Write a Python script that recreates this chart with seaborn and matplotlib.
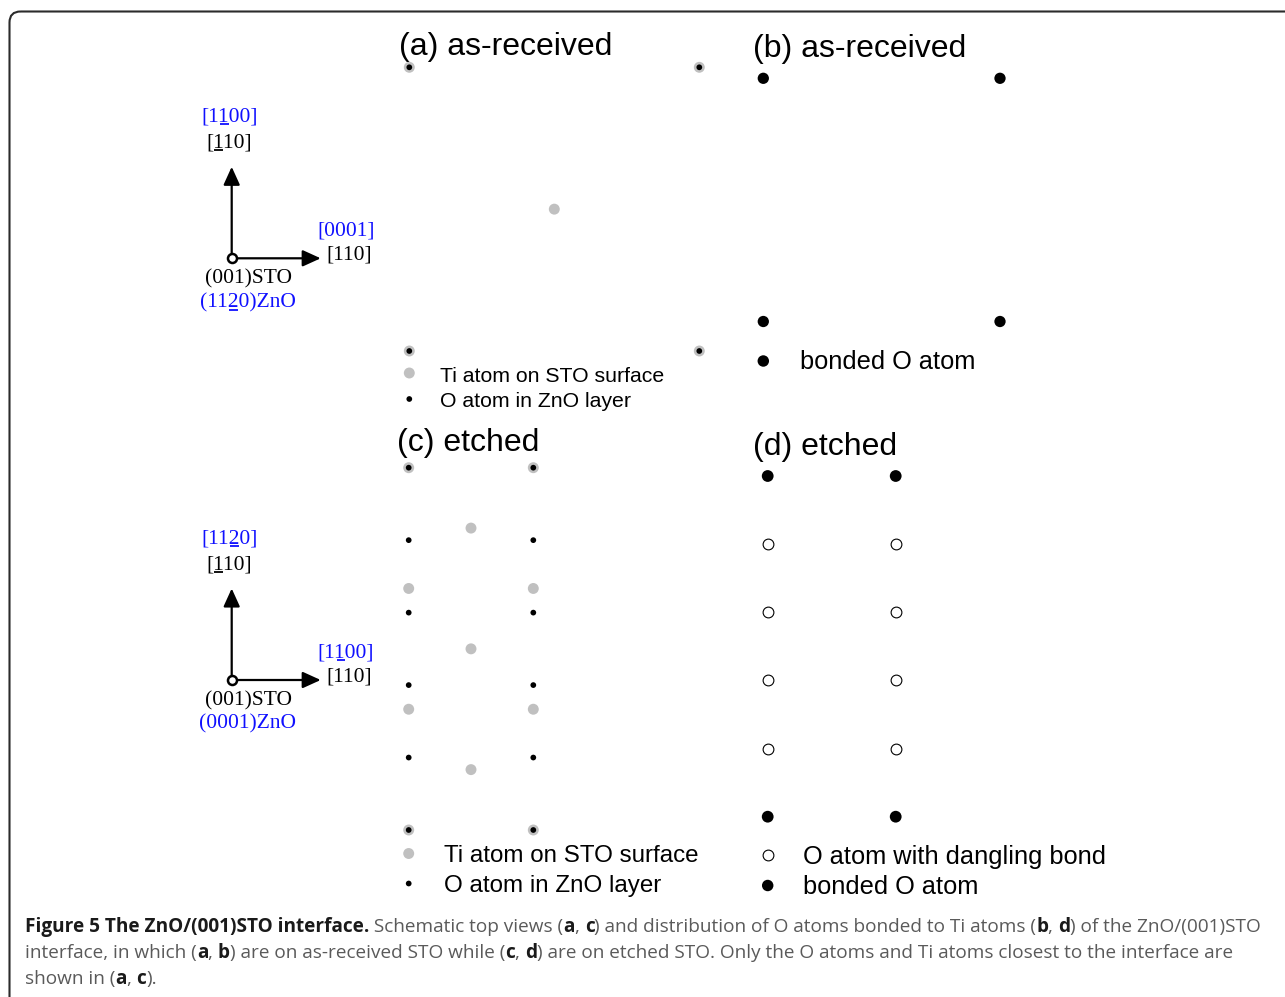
import matplotlib
matplotlib.use("Agg")
import matplotlib.pyplot as plt
from matplotlib.font_manager import FontProperties
from matplotlib.patches import FancyBboxPatch
import seaborn as sns

W, H, DPI = 1285, 997, 100

# ---------------- data (lattice coordinates) ----------------
# (a) as-received: Ti atoms on STO surface, O atoms in ZnO layer
A_TI_X = [0, 1, 0.5, 0, 1]
A_TI_Y = [0, 0, 0.5, 1, 1]
A_O_X = [0, 1, 0, 1]
A_O_Y = [0, 0, 1, 1]
# (b) as-received: bonded O atoms
B_BOND_X = [0, 1, 0, 1]
B_BOND_Y = [0, 0, 1, 1]
# (c) etched: Ti rows (half-spacing units) and O rows
C_TI_X = [0, 1, 0.5, 0, 1, 0.5, 0, 1, 0.5, 0, 1]
C_TI_Y = [0, 0, 1, 2, 2, 3, 4, 4, 5, 6, 6]
C_O_X = [0, 1, 0, 1, 0, 1, 0, 1, 0, 1, 0, 1]
C_O_Y = [0, 0, 1.2, 1.2, 2.4, 2.4, 3.6, 3.6, 4.8, 4.8, 6, 6]
# (d) etched: bonded and dangling-bond O atoms
D_BOND_X = [0, 1, 0, 1]
D_BOND_Y = [0, 0, 5, 5]
D_DANG_X = [0, 1, 0, 1, 0, 1, 0, 1]
D_DANG_Y = [1, 1, 2, 2, 3, 3, 4, 4]

TITLES = ["(a) as-received", "(b) as-received", "(c) etched", "(d) etched"]
LEG_AC = ["Ti atom on STO surface", "O atom in ZnO layer"]
LEG_B = ["bonded O atom"]
LEG_D = ["O atom with dangling bond", "bonded O atom"]

CAPTION = [
    [("Figure 5 The ZnO/(001)STO interface.", True), (" Schematic top views (", False), ("a", True),
     (", ", False), ("c", True), (") and distribution of O atoms bonded to Ti atoms (", False),
     ("b", True), (", ", False), ("d", True), (") of the ZnO/(001)STO", False)],
    [("interface, in which (", False), ("a", True), (", ", False), ("b", True),
     (") are on as-received STO while (", False), ("c", True), (", ", False), ("d", True),
     (") are on etched STO. Only the O atoms and Ti atoms closest to the interface are", False)],
    [("shown in (", False), ("a", True), (", ", False), ("c", True), (").", False)],
]

TI_GRAY = "#c0c0c0"
BLUE = "#1010ff"

sns.set_style("white")
plt.rcParams['font.family'] = ['Liberation Sans', 'DejaVu Sans']

fig = plt.figure(figsize=(W / DPI, H / DPI), dpi=DPI)
ov = fig.add_axes([0, 0, 1, 1])
ov.set_xlim(0, W)
ov.set_ylim(H, 0)
ov.axis('off')
renderer = fig.canvas.get_renderer()


def adv(s, fp):
    w1, _, _ = renderer.get_text_width_height_descent('|' + s + '|', fp, ismath=False)
    w2, _, _ = renderer.get_text_width_height_descent('||', fp, ismath=False)
    return w1 - w2


def panel_ax(x0, x1, y0, y1, xl, yl):
    ax = fig.add_axes([x0 / W, 1 - y1 / H, (x1 - x0) / W, (y1 - y0) / H])
    ax.axis('off')
    return ax, xl, yl


def finish(ax, xl, yl):
    ax.set_xlim(*xl)
    ax.set_ylim(yl[1], yl[0])
    ax.axis('off')


def dots(ax, x, y, s, face, edge='none', lw=0, z=3):
    sns.scatterplot(x=x, y=y, ax=ax, s=s, color=face, edgecolor=edge, linewidth=lw,
                    legend=False, clip_on=False, zorder=z)


# frame
frame = FancyBboxPatch((9.5, 11.5), 1400, 1100, boxstyle="round,pad=0,rounding_size=11",
                       fc='none', ec='#2b2b2b', lw=1.5, zorder=1)
ov.add_patch(frame)

# ---------------- panel (a) ----------------
ax, xl, yl = panel_ax(409.3, 699.3, 67.3, 351.0, (0, 1), (0, 1))
dots(ax, A_TI_X, A_TI_Y, 62, TI_GRAY, z=2)
dots(ax, A_O_X, A_O_Y, 17, 'black', z=3)
finish(ax, xl, yl)

# ---------------- panel (b) ----------------
ax, xl, yl = panel_ax(763.3, 1000.0, 78.3, 321.5, (0, 1), (0, 1))
dots(ax, B_BOND_X, B_BOND_Y, 66, 'black')
finish(ax, xl, yl)

# ---------------- panel (c) ----------------
ax, xl, yl = panel_ax(408.7, 533.3, 467.7, 830.0, (0, 1), (0, 6))
dots(ax, C_TI_X, C_TI_Y, 62, TI_GRAY, z=2)
dots(ax, C_O_X, C_O_Y, 17, 'black', z=3)
finish(ax, xl, yl)

# ---------------- panel (d) ----------------
ax, xl, yl = panel_ax(767.7, 895.7, 476.0, 816.7, (0, 1), (0, 5))
dots(ax, D_BOND_X, D_BOND_Y, 72, 'black')
dots(ax, D_DANG_X, D_DANG_Y, 60, 'white', edge='black', lw=0.8)
finish(ax, xl, yl)

# ---------------- titles ----------------
title_fp = FontProperties(family=['Liberation Sans', 'DejaVu Sans'], size=23)
for t, (x, y) in zip(TITLES, [(399, 55.5), (753, 56.5), (397, 451), (753, 455)]):
    ov.text(x, y, t, ha='left', va='baseline', fontproperties=title_fp, color='black')

# ---------------- legends ----------------
def legend_entry(mx, my, tx, ty, label, size, kind):
    if kind == 'ti':
        dots(ov, [mx], [my], 62, TI_GRAY)
    elif kind == 'o':
        dots(ov, [mx], [my], 17, 'black')
    elif kind == 'bond':
        dots(ov, [mx], [my], 68, 'black')
    elif kind == 'dang':
        dots(ov, [mx], [my], 60, 'white', edge='black', lw=0.8)
    ov.text(tx, ty, label, ha='left', va='baseline', color='black',
            fontproperties=FontProperties(family=['Liberation Sans', 'DejaVu Sans'], size=size))

legend_entry(409.3, 373, 440, 382, LEG_AC[0], 15.3, 'ti')
legend_entry(409.3, 399, 440, 407, LEG_AC[1], 15.3, 'o')
legend_entry(763.3, 361, 800, 368.5, LEG_B[0], 18.3, 'bond')
legend_entry(408.7, 853.5, 444, 862, LEG_AC[0], 17.4, 'ti')
legend_entry(408.7, 883.5, 444, 892, LEG_AC[1], 17.4, 'o')
legend_entry(767.7, 855, 803, 863.5, LEG_D[0], 18.3, 'dang')
legend_entry(767.7, 885.5, 803, 893.5, LEG_D[1], 18.3, 'bond')

# ---------------- orientation diagrams ----------------
serif_fp = FontProperties(family=['Liberation Serif', 'DejaVu Serif'], size=15.5)


def label(x, y, s, color, ul=None):
    ov.text(x, y, s, ha='center', va='baseline', color=color, fontproperties=serif_fp)
    if ul is not None:
        total = adv(s, serif_fp)
        pre = adv(s[:ul], serif_fp)
        cw = adv(s[ul], serif_fp)
        left = x - total / 2 + pre
        ov.plot([left + 1, left + cw - 1], [y + 2.5, y + 2.5], color=color, lw=1.3,
                solid_capstyle='butt')


def axes_diagram(ox, oy, up_blue, up_ul, right_blue, right_ul, zno):
    style = '-|>,head_length=0.55,head_width=0.25'
    ov.annotate('', xy=(ox, oy - 91.5), xytext=(ox, oy),
                arrowprops=dict(arrowstyle=style, color='black', lw=1.6, mutation_scale=20,
                                shrinkA=0, shrinkB=0))
    ov.annotate('', xy=(ox + 89, oy), xytext=(ox, oy),
                arrowprops=dict(arrowstyle=style, color='black', lw=1.6, mutation_scale=20,
                                shrinkA=0, shrinkB=0))
    ov.plot([ox], [oy], marker='o', ms=6.5, mfc='white', mec='black', mew=1.8, zorder=5)
    label(ox - 2.2, oy - 136.6, up_blue, BLUE, up_ul)
    label(ox - 3.0, oy - 110.5, "[110]", 'black', 1)
    label(ox + 114.3, oy - 22.5, right_blue, BLUE, right_ul)
    label(ox + 117.3, oy + 1.5, "[110]", 'black')
    label(ox + 17.3, oy + 25.5, "(001)STO", 'black')
    label(ox + 16.3, oy + 48.8, zno, BLUE, 3 if zno.startswith("(112") else None)


axes_diagram(231.7, 258.3, "[1100]", 2, "[0001]", None, "(1120)ZnO")
axes_diagram(231.7, 680.0, "[1120]", 3, "[1100]", 2, "(0001)ZnO")

# ---------------- caption ----------------
cap_reg = FontProperties(family=['Open Sans', 'DejaVu Sans'], size=15)
cap_bold = FontProperties(family=['Open Sans', 'DejaVu Sans'], size=15, weight='bold')
nat = sum(adv(t, cap_bold if b else cap_reg) for t, b in CAPTION[0])
size = 15 * 1235.0 / nat
cap_reg.set_size(size)
cap_bold.set_size(size)
for line, y in zip(CAPTION, [932, 958, 984]):
    x = 25
    for t, b in line:
        fp = cap_bold if b else cap_reg
        ov.text(x, y, t, ha='left', va='baseline', fontproperties=fp,
                color='#1a1a1a' if b else '#5a5a5a')
        x += adv(t, fp)

fig.savefig("out.png", dpi=DPI)
